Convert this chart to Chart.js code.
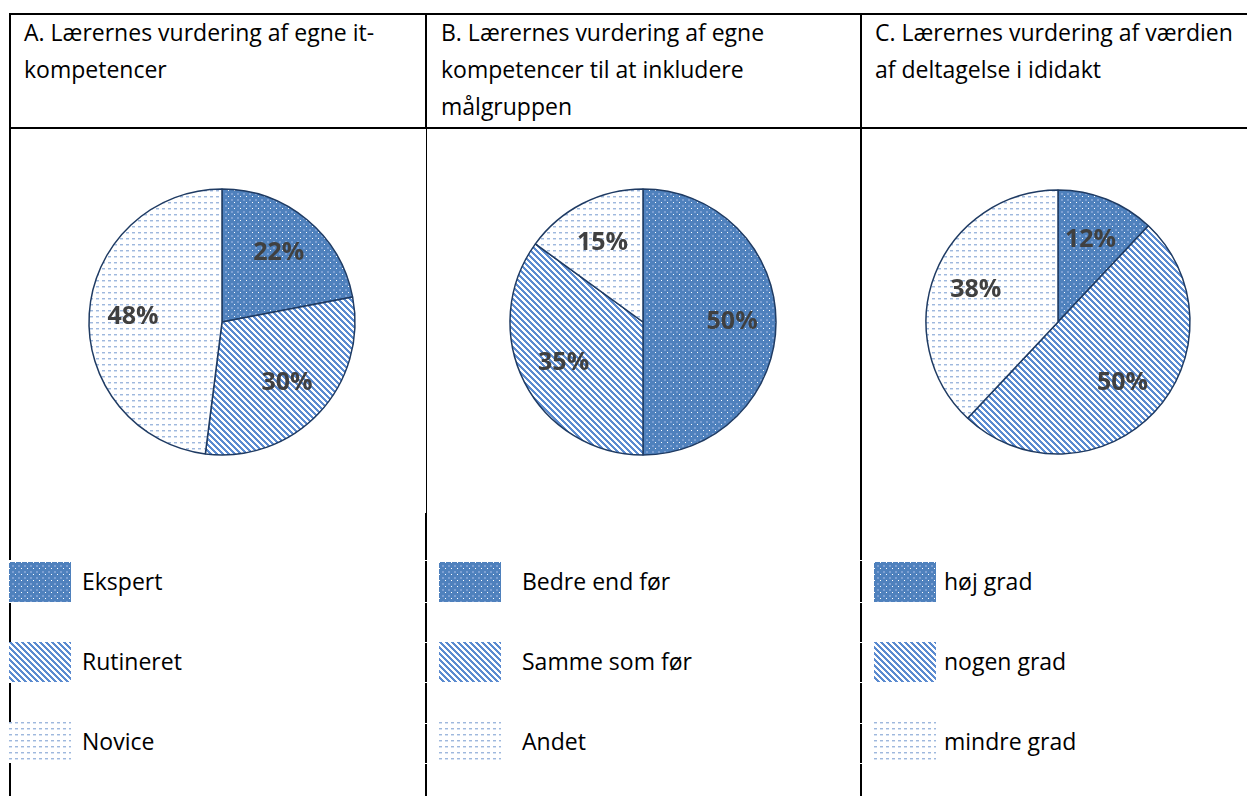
<!DOCTYPE html>
<html lang="da">
<head>
<meta charset="UTF-8">
<title>Lærernes vurdering</title>
<script src="https://cdn.jsdelivr.net/npm/chart.js"></script>
<style>
  body { margin: 0; width: 1247px; height: 796px; position: relative; background: #fff; overflow: hidden;
         font-family: "Open Sans", sans-serif; color: #000; }
  .ln { position: absolute; background: #000; }
  .head { position: absolute; top: 14px; font-size: 23px; line-height: 37px; }
  .pie { position: absolute; width: 300px; height: 300px; }
  .sw { position: absolute; }
  .leg { position: absolute; font-size: 23px; line-height: 30px; }
</style>
</head>
<body>
<script>
// survey answers, in percent
const titleA = 'A. Lærernes vurdering af egne it-<br>kompetencer';
const titleB = 'B. Lærernes vurdering af egne<br>kompetencer til at inkludere<br>målgruppen';
const titleC = 'C. Lærernes vurdering af værdien<br>af deltagelse i ididakt';

const labelsA = ['Ekspert', 'Rutineret', 'Novice'];
const valuesA = [22, 30, 48];

const labelsB = ['Bedre end før', 'Samme som før', 'Andet'];
const valuesB = [50, 35, 15];

const labelsC = ['høj grad', 'nogen grad', 'mindre grad'];
const valuesC = [12, 50, 38];

// fill patterns: dotted dark blue, downward diagonal, light dashed grid
function makeTile(kind) {
  const c = document.createElement('canvas');
  c.width = 6; c.height = 6;
  const g = c.getContext('2d');
  if (kind === 0) {
    g.fillStyle = '#4f81bd'; g.fillRect(0, 0, 6, 6);
    g.fillStyle = '#7c9fd2'; g.fillRect(3, 3, 2, 2);
    g.fillStyle = '#ffffff'; g.fillRect(0, 0, 1, 1);
  } else if (kind === 1) {
    g.fillStyle = '#ffffff'; g.fillRect(0, 0, 6, 6);
    g.fillStyle = '#5b8bd0';
    for (let r = 0; r < 6; r++) {
      for (let k = 0; k < 3; k++) g.fillRect((r + k) % 6, r, 1, 1);
    }
  } else {
    g.fillStyle = '#ffffff'; g.fillRect(0, 0, 6, 6);
    g.fillStyle = '#9fb8dd'; g.fillRect(0, 0, 3, 1);
    g.fillStyle = '#d3e0f1'; g.fillRect(0, 1, 3, 1);
  }
  return c;
}
const tiles = [makeTile(0), makeTile(1), makeTile(2)];

function addEl(tag, cls, style, html) {
  const el = document.createElement(tag);
  if (cls) el.className = cls;
  Object.assign(el.style, style);
  if (html) el.innerHTML = html;
  document.body.appendChild(el);
  return el;
}

// table rules
function hline(x1, x2, y, w) { addEl('div', 'ln', { left: x1 + 'px', top: y + 'px', width: (x2 - x1) + 'px', height: w + 'px' }); }
function vline(x, y1, y2, w) { addEl('div', 'ln', { left: x + 'px', top: y1 + 'px', width: w + 'px', height: (y2 - y1) + 'px' }); }

hline(9, 1247, 13, 2);
hline(9, 1247, 127, 2);

// rows below the pies are split into small table rows
const cuts = [560, 602, 642, 682, 723, 763, 796];
function splitLine(x, from, w) {
  let y = from;
  cuts.forEach(c => { vline(x, y, c, w); y = c + 1; });
}
vline(9, 13, 560, 2);
vline(9, 603, 642, 2);
vline(9, 683, 722, 2);
vline(9, 763, 796, 2);

vline(425, 13, 129, 2);
vline(426, 129, 513, 1);
splitLine(425, 513, 2);

vline(860, 13, 513, 2);
splitLine(860, 513, 2);

// headings
addEl('div', 'head', { left: '24px' }, titleA);
addEl('div', 'head', { left: '441px' }, titleB);
addEl('div', 'head', { left: '875px' }, titleC);

const pctLabels = {
  id: 'pctLabels',
  afterDatasetsDraw(chart) {
    const ctx = chart.ctx;
    const vals = chart.data.datasets[0].data;
    ctx.save();
    ctx.font = 'bold 25px "Open Sans"';
    ctx.fillStyle = '#404040';
    ctx.textAlign = 'center';
    ctx.textBaseline = 'middle';
    chart.getDatasetMeta(0).data.forEach((arc, i) => {
      const p = arc.getProps(['x', 'y', 'startAngle', 'endAngle', 'outerRadius']);
      const a = (p.startAngle + p.endAngle) / 2;
      const r = p.outerRadius * 0.67;
      ctx.fillText(vals[i] + '%', p.x + Math.cos(a) * r, p.y + Math.sin(a) * r);
    });
    ctx.restore();
  }
};

function drawPie(cx, cy, radius, labels, values) {
  const cv = addEl('canvas', 'pie', { left: (cx - 150) + 'px', top: (cy - 150) + 'px' });
  cv.width = 300; cv.height = 300;
  const ctx = cv.getContext('2d');
  const fills = tiles.map(t => ctx.createPattern(t, 'repeat'));
  new Chart(cv, {
    type: 'pie',
    data: {
      labels: labels,
      datasets: [{ data: values, backgroundColor: fills, borderColor: '#1f3b63', borderWidth: 1.5 }]
    },
    options: {
      responsive: false,
      animation: false,
      radius: radius,
      events: [],
      plugins: { legend: { display: false }, tooltip: { enabled: false } }
    },
    plugins: [pctLabels]
  });
}

function drawLegend(swX, txtX, labels) {
  const tops = [562, 642, 722];
  labels.forEach((lab, i) => {
    const sw = addEl('canvas', 'sw', { left: swX + 'px', top: tops[i] + 'px' });
    sw.width = 62; sw.height = 40;
    const g = sw.getContext('2d');
    g.fillStyle = g.createPattern(tiles[i], 'repeat');
    g.fillRect(0, 0, 62, 40);
    addEl('div', 'leg', { left: txtX + 'px', top: (tops[i] + 4) + 'px' }, lab);
  });
}

document.fonts.load('bold 25px "Open Sans"').then(() => {
  drawPie(222, 322, 133, labelsA, valuesA);
  drawPie(643, 322, 133, labelsB, valuesB);
  drawPie(1058, 322, 132, labelsC, valuesC);
  drawLegend(9, 82, labelsA);
  drawLegend(439, 522, labelsB);
  drawLegend(874, 944, labelsC);
});
</script>
</body>
</html>
